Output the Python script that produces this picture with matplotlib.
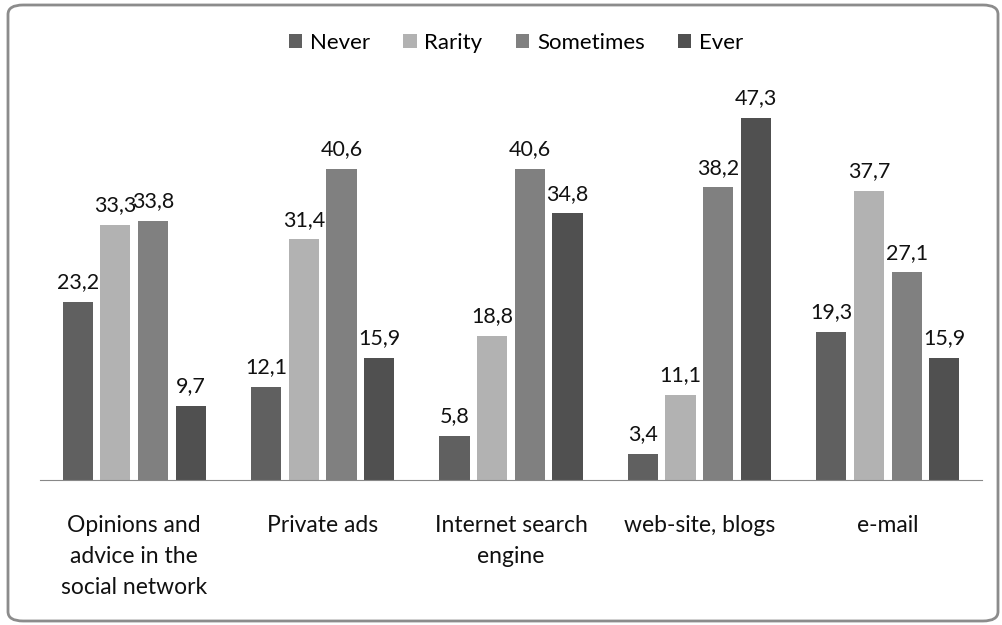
import numpy as np
import matplotlib.pyplot as plt
from matplotlib.patches import FancyBboxPatch

plt.rcParams['font.family'] = ['Lato', 'DejaVu Sans']

categories = ['Opinions and\nadvice in the\nsocial network', 'Private ads',
              'Internet search\nengine', 'web-site, blogs', 'e-mail']
series = ['Never', 'Rarity', 'Sometimes', 'Ever']
never = [23.2, 12.1, 5.8, 3.4, 19.3]
rarity = [33.3, 31.4, 18.8, 11.1, 37.7]
sometimes = [33.8, 40.6, 40.6, 38.2, 27.1]
ever = [9.7, 15.9, 34.8, 47.3, 15.9]
colors = ['#606060', '#b2b2b2', '#808080', '#505050']

fig = plt.figure(figsize=(10.03, 6.25), dpi=100)
ax = fig.add_axes([40 / 1003, 145 / 625, 942 / 1003, 383 / 625])

x = np.arange(len(categories))
step = 0.2
width = 0.16
for i, (name, vals) in enumerate(zip(series, [never, rarity, sometimes, ever])):
    pos = x + (i - 1.5) * step
    bars = ax.bar(pos, vals, width, color=colors[i], label=name)
    for p, v in zip(pos, vals):
        ax.annotate(f'{v:.1f}'.replace('.', ','), (p, v), xytext=(0, 7),
                    textcoords='offset points', ha='center', va='bottom',
                    fontsize=15.5, color='#111111')

ax.set_xlim(-0.5, len(categories) - 0.5)
ax.set_ylim(0, 50)
ax.set_xticks(x)
ax.set_xticklabels(categories, fontsize=16.5, color='#111111', linespacing=1.6, va='top')
ax.tick_params(axis='x', length=0, pad=25)
ax.set_yticks([])
for s in ['top', 'left', 'right']:
    ax.spines[s].set_visible(False)
ax.spines['bottom'].set_color('#888888')

leg = fig.legend(loc='center', bbox_to_anchor=(516 / 1003, 1 - 43 / 625), ncol=4,
                 frameon=False, fontsize=16, handlelength=0.6, handleheight=0.6,
                 handletextpad=0.35, columnspacing=1.5)

border = FancyBboxPatch((8 / 1003, 4 / 625), 990 / 1003, 616 / 625,
                        boxstyle='round,pad=0,rounding_size=0.015',
                        transform=fig.transFigure, fill=False,
                        edgecolor='#8c8c8c', linewidth=2)
fig.patches.append(border)

fig.savefig('out.png', dpi=100)
